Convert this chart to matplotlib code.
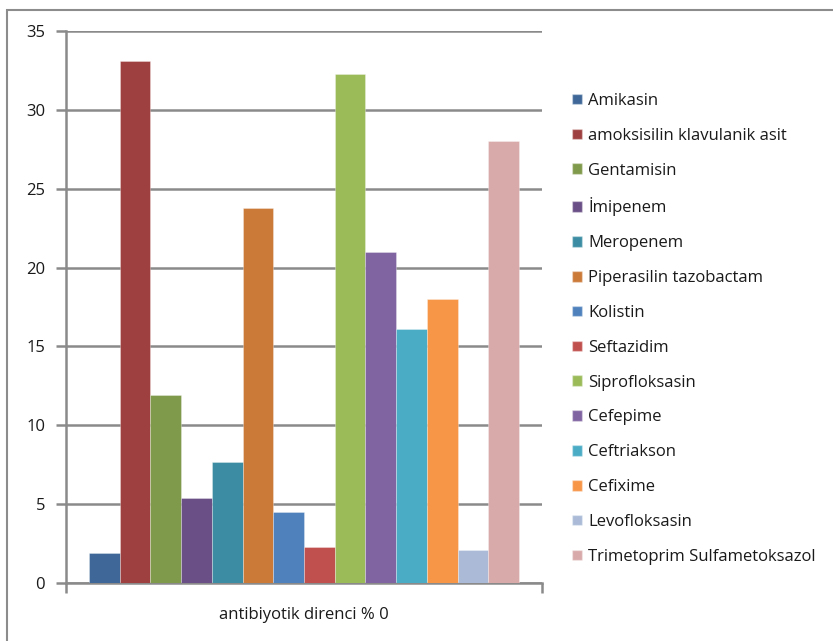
import matplotlib
matplotlib.use("Agg")
import matplotlib.pyplot as plt
from matplotlib.patches import Rectangle, Patch
import numpy as np

plt.rcParams['font.family'] = ['Open Sans', 'DejaVu Sans']

category = "antibiyotik direnci % 0"
antibiotics = [
    "Amikasin", "amoksisilin klavulanik asit", "Gentamisin", "İmipenem",
    "Meropenem", "Piperasilin tazobactam", "Kolistin", "Seftazidim",
    "Siprofloksasin", "Cefepime", "Ceftriakson", "Cefixime",
    "Levofloksasin", "Trimetoprim Sulfametoksazol",
]
values = [1.9, 33.1, 11.9, 5.4, 7.7, 23.8, 4.5, 2.3, 32.3, 21.0, 16.1, 18.0, 2.1, 28.0]
colors = [
    "#3F6899", "#9E403F", "#7F9A4A", "#6A4F86", "#3C8DA3", "#CB7A38",
    "#4F81BD", "#C0504D", "#9BBB59", "#8064A2", "#4BACC6", "#F79646",
    "#AABAD7", "#D9AAAA",
]
yticks = [0, 5, 10, 15, 20, 25, 30, 35]

W, H = 833, 641
fig = plt.figure(figsize=(W / 100, H / 100), dpi=100)
fig.patch.set_facecolor("white")

# outer chart border
fig.patches.append(Rectangle((7 / W, -0.1), 1.2, (H - 10) / H + 0.1,
                             transform=fig.transFigure, fill=False,
                             edgecolor="#8C8C8C", linewidth=1.5))

ax = fig.add_axes([66 / W, (H - 583) / H, 476 / W, 552 / H])
n = len(values)
bw = 1.0 / (n + 1.5)
offsets = (np.arange(n) - (n - 1) / 2) * bw
for off, v, c, lab in zip(offsets, values, colors, antibiotics):
    ax.bar(off, v, width=bw, color=c, edgecolor=(1, 1, 1, 0.35), linewidth=0.6,
           label=lab, zorder=3)

ax.set_xlim(-0.5, 0.5)
ax.set_ylim(0, 35)
ax.set_yticks(yticks)
ax.set_yticklabels([str(t) for t in yticks], fontsize=12, color="#1A1A1A")
ax.yaxis.grid(True, color="#8A8A8A", linewidth=1.8, zorder=0)
ax.set_axisbelow(True)
ax.tick_params(axis="y", direction="out", length=7, width=1.8, color="#8A8A8A", pad=8)

ax.set_xticks([-0.5, 0.5])
ax.set_xticklabels(["", ""])
ax.tick_params(axis="x", direction="out", length=7, width=1.8, color="#8A8A8A")
ax.text(0, -0.044, category, transform=ax.get_xaxis_transform(),
        ha="center", va="top", fontsize=12, color="#1A1A1A")

for s in ["top", "right"]:
    ax.spines[s].set_visible(False)
for s in ["left", "bottom"]:
    ax.spines[s].set_color("#8A8A8A")
    ax.spines[s].set_linewidth(1.8)

handles = [Patch(facecolor=c, edgecolor=(1, 1, 1, 0.35)) for c in colors]
leg = fig.legend(handles, antibiotics, loc="upper left",
                 bbox_to_anchor=(572 / W, 1 - 93 / H), frameon=False,
                 fontsize=12, handlelength=0.6, handleheight=0.6,
                 handletextpad=0.36, labelspacing=1.13, borderaxespad=0,
                 borderpad=0)
for t in leg.get_texts():
    t.set_color("#1A1A1A")

fig.savefig("out.png", dpi=100)
